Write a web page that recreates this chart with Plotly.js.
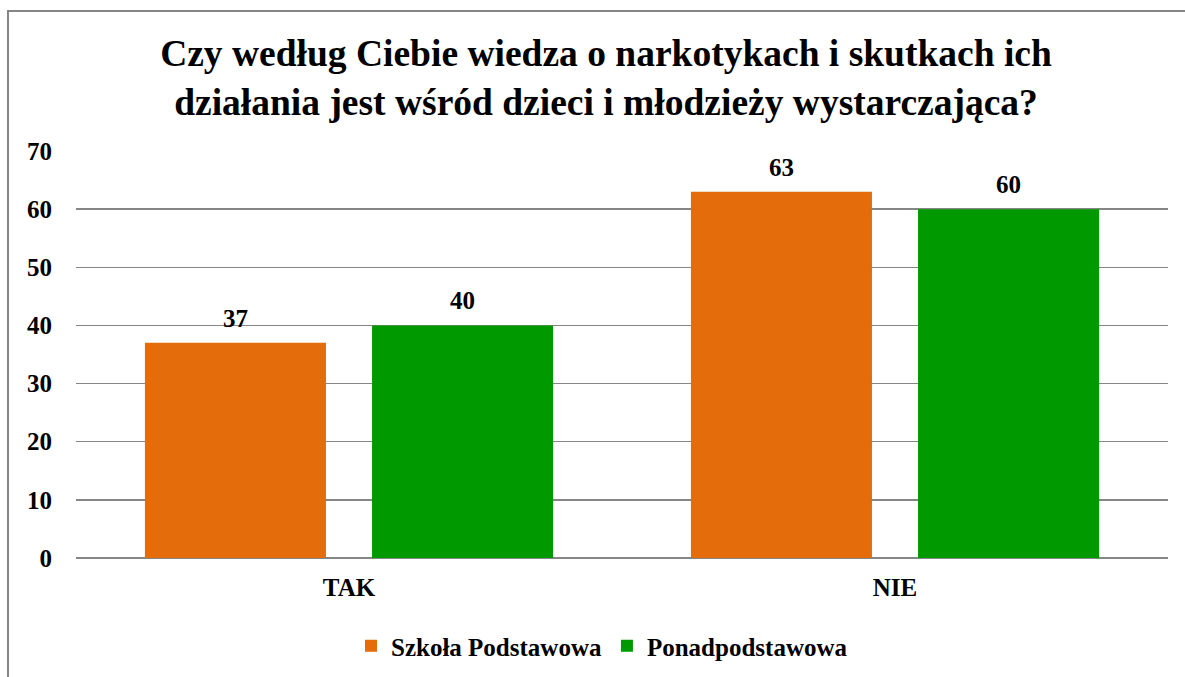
<!DOCTYPE html>
<html>
<head>
<meta charset="utf-8">
<script src="https://cdn.plot.ly/plotly-3.0.1.min.js"></script>
<style>html,body{margin:0;padding:0;background:#fff;}#chart{width:1185px;height:677px;}</style>
</head>
<body>
<div id="chart"></div>
<script>
const categories = ["TAK", "NIE"];
const seriesNames = ["Szkoła Podstawowa", "Ponadpodstawowa"];
const szkolaPodstawowa = [37, 63];
const ponadpodstawowa = [40, 60];
const yTicks = [0, 10, 20, 30, 40, 50, 60, 70];
const titleText = "Czy według Ciebie wiedza o narkotykach i skutkach ich<br>działania jest wśród dzieci i młodzieży wystarczająca?";

const FONT = "Liberation Serif, Times New Roman, serif";
const labelFont = {family: FONT, size: 25, color: "#000", weight: "bold"};
const colors = ["#E46C0A", "#009900"];
const seriesValues = [szkolaPodstawowa, ponadpodstawowa];

const traces = seriesValues.map((vals, i) => ({
  type: "bar", name: seriesNames[i], x: categories, y: vals,
  marker: {color: colors[i]}, hoverinfo: "none"
}));

// value labels above bars, derived from the data arrays
const annotations = [];
seriesValues.forEach((vals, i) => {
  vals.forEach((v, j) => {
    annotations.push({x: categories[j], y: v, xref: "x", yref: "y", text: "<b>" + v + "</b>",
      showarrow: false, xanchor: "center", yanchor: "bottom", xshift: i === 0 ? -113.5 : 113.5, yshift: 9,
      font: {family: FONT, size: 25, color: "#000"}});
  });
});

const layout = {
  width: 1185, height: 677,
  paper_bgcolor: "#fff", plot_bgcolor: "#fff",
  margin: {l: 76, r: 17, t: 151, b: 119, autoexpand: false},
  font: {family: FONT, color: "#000"},
  title: {text: "<b>" + titleText + "</b>", font: {family: FONT, size: 37.5, color: "#000"},
          xref: "container", x: 606/1185, xanchor: "center",
          yref: "container", y: 1 - 66/677, yanchor: "middle"},
  barmode: "group", bargap: 0.168, bargroupgap: 0.203,
  showlegend: true,
  legend: {orientation: "h", x: (602-76)/1092, xanchor: "center", y: (558-646)/407, yanchor: "middle",
           font: labelFont, itemwidth: 30, traceorder: "normal"},
  xaxis: {type: "category", showgrid: false, showline: false, zeroline: false, ticks: "",
          tickfont: labelFont, ticklabelstandoff: 12, automargin: false},
  yaxis: {range: [0, 70], tickvals: yTicks, ticktext: yTicks.map(String), showgrid: true,
          gridcolor: "#868686", gridwidth: 1.5, zeroline: true, zerolinecolor: "#868686", zerolinewidth: 2,
          showline: false, ticks: "", tickfont: labelFont, ticklabelstandoff: 23, automargin: false},
  annotations: annotations,
  shapes: [{type: "rect", xref: "paper", yref: "paper",
            x0: (8-76)/1092, x1: (1195-76)/1092, y0: (558-690)/407, y1: (558-11)/407,
            line: {color: "#868686", width: 2}, fillcolor: "rgba(0,0,0,0)", layer: "below"}]
};

Plotly.newPlot("chart", traces, layout, {displayModeBar: false, staticPlot: true});
</script>
</body>
</html>
